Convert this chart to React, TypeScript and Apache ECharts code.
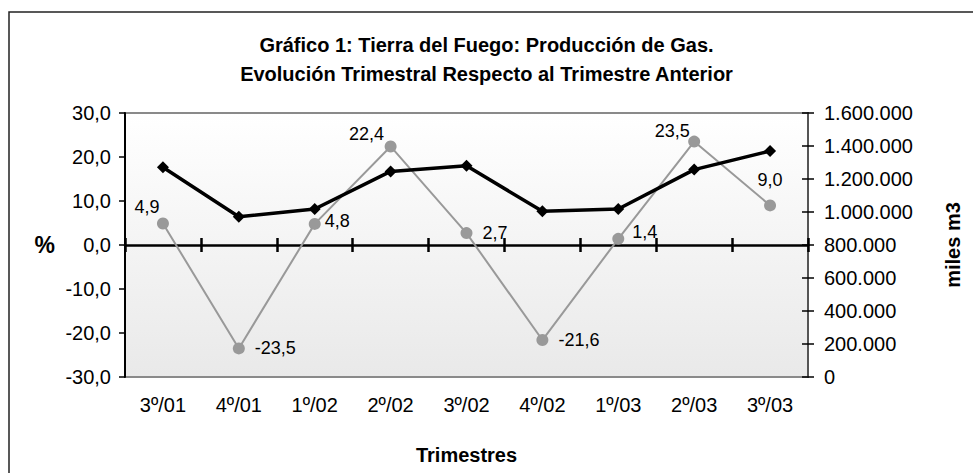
import React, { useEffect, useRef } from "react";
import * as echarts from "echarts";

const categories = ["3º/01", "4º/01", "1º/02", "2º/02", "3º/02", "4º/02", "1º/03", "2º/03", "3º/03"];
const variacionPct = [4.9, -23.5, 4.8, 22.4, 2.7, -21.6, 1.4, 23.5, 9.0];
const produccionMilesM3 = [1271000, 971500, 1018000, 1246000, 1280000, 1004000, 1018000, 1257000, 1370000];

const pctMin = -30;
const pctMax = 30;
const pctInterval = 10;
const volMin = 0;
const volMax = 1600000;
const volInterval = 200000;

const titleLines = ["Gráfico 1: Tierra del Fuego: Producción de Gas.", "Evolución Trimestral Respecto al Trimestre Anterior"];

const labelPlacement: any[] = [
  { position: "top", distance: 1, offset: [-16, 0] },
  { position: "right", distance: 10 },
  { position: "right", distance: 4, offset: [0, -3] },
  { position: "top", distance: 0, offset: [-24, 3] },
  { position: "right", distance: 10 },
  { position: "right", distance: 10 },
  { position: "right", distance: 8, offset: [0, -7] },
  { position: "top", distance: 0, offset: [-22, 4] },
  { position: "top", distance: 10 },
];

const FONT = "'Liberation Sans', Arial, sans-serif";

const fmtPct = (v: number) => v.toFixed(1).replace(".", ",");
const fmtThousands = (v: number) => String(Math.round(v)).replace(/\B(?=(\d{3})+(?!\d))/g, ".");

export default function App() {
  const ref = useRef<HTMLDivElement>(null);

  useEffect(() => {
    document.body.style.margin = "0";
    if (!ref.current) return;
    const chart = echarts.init(ref.current, undefined, { renderer: "svg" });

    const option: any = {
      animation: false,
      backgroundColor: "#ffffff",
      textStyle: { fontFamily: FONT },
      title: {
        text: titleLines.join("\n"),
        left: "center",
        top: 25,
        textStyle: { fontFamily: FONT, fontSize: 20, fontWeight: "bold", color: "#000", lineHeight: 29 },
      },
      graphic: [
        {
          type: "rect",
          shape: { x: 9, y: 12, width: 1000, height: 520 },
          style: { fill: "none", stroke: "#222", lineWidth: 1.5 },
          silent: true,
          z: -10,
        },
      ],
      grid: {
        left: 125,
        right: 165,
        top: 113,
        bottom: 96,
        show: true,
        borderColor: "#8a8a8a",
        borderWidth: 2,
        backgroundColor: new echarts.graphic.LinearGradient(0, 0, 0, 1, [
          { offset: 0, color: "#ffffff" },
          { offset: 1, color: "#e9e9e9" },
        ]),
        containLabel: false,
        outerBoundsMode: "none",
      },
      xAxis: [
        {
          type: "category",
          data: categories,
          position: "bottom",
          axisLine: { show: false, onZero: false },
          axisTick: { show: false },
          axisLabel: { color: "#000", fontSize: 20, fontFamily: FONT, margin: 18 },
          splitLine: { show: false },
          name: "Trimestres",
          nameLocation: "middle",
          nameGap: 68,
          nameTextStyle: { color: "#000", fontSize: 20, fontWeight: "bold", fontFamily: FONT },
        },
        {
          type: "category",
          data: categories,
          position: "bottom",
          axisLine: { show: true, onZero: true, onZeroAxisIndex: 0, lineStyle: { color: "#000", width: 2.5 } },
          axisTick: { show: true, length: 7, lineStyle: { color: "#000", width: 2.5 } },
          axisLabel: { show: false },
          splitLine: { show: false },
        },
        {
          type: "category",
          data: categories,
          position: "top",
          axisLine: { show: false, onZero: true, onZeroAxisIndex: 0 },
          axisTick: { show: true, length: 7, lineStyle: { color: "#000", width: 2.5 } },
          axisLabel: { show: false },
          splitLine: { show: false },
        },
      ],
      yAxis: [
        {
          type: "value",
          position: "left",
          min: pctMin,
          max: pctMax,
          interval: pctInterval,
          axisLine: { show: true, onZero: false, lineStyle: { color: "#000", width: 2 } },
          axisTick: { show: true, length: 6, lineStyle: { color: "#000", width: 1.5 } },
          axisLabel: { color: "#000", fontSize: 20, fontFamily: FONT, margin: 14, formatter: fmtPct },
          splitLine: { show: false },
          name: "%",
          nameLocation: "middle",
          nameRotate: 0,
          nameGap: 70,
          nameTextStyle: { color: "#000", fontSize: 23, fontWeight: "bold", fontFamily: FONT },
        },
        {
          type: "value",
          position: "right",
          min: volMin,
          max: volMax,
          interval: volInterval,
          axisLine: { show: true, onZero: false, lineStyle: { color: "#555", width: 2 } },
          axisTick: { show: true, length: 6, lineStyle: { color: "#000", width: 1.5 } },
          axisLabel: { color: "#000", fontSize: 20, fontFamily: FONT, margin: 16, formatter: fmtThousands },
          splitLine: { show: false },
          name: "miles m3",
          nameLocation: "middle",
          nameRotate: 90,
          nameGap: 135,
          nameTextStyle: { color: "#000", fontSize: 20, fontWeight: "bold", fontFamily: FONT },
        },
        {
          type: "value",
          position: "right",
          min: volMin,
          max: volMax,
          interval: volInterval,
          axisLine: { show: false, onZero: false },
          axisTick: { show: true, inside: true, length: 6, lineStyle: { color: "#000", width: 1.5 } },
          axisLabel: { show: false },
          splitLine: { show: false },
        },
      ],
      series: [
        {
          name: "Variación %",
          type: "line",
          xAxisIndex: 0,
          yAxisIndex: 0,
          data: variacionPct.map((v, i) => ({
            value: v,
            label: { show: true, ...labelPlacement[i] },
          })),
          symbol: "circle",
          symbolSize: 12,
          lineStyle: { color: "#999999", width: 2 },
          itemStyle: { color: "#999999" },
          label: {
            show: true,
            color: "#000",
            fontSize: 18,
            fontFamily: FONT,
            formatter: (p: any) => fmtPct(p.value),
          },
          z: 3,
        },
        {
          name: "Producción (miles m3)",
          type: "line",
          xAxisIndex: 0,
          yAxisIndex: 1,
          data: produccionMilesM3,
          symbol: "diamond",
          symbolSize: 12,
          lineStyle: { color: "#000", width: 3.5 },
          itemStyle: { color: "#000" },
          z: 4,
        },
      ],
    };

    chart.setOption(option);
    return () => chart.dispose();
  }, []);

  return <div ref={ref} style={{ width: 973, height: 473 }} />;
}
